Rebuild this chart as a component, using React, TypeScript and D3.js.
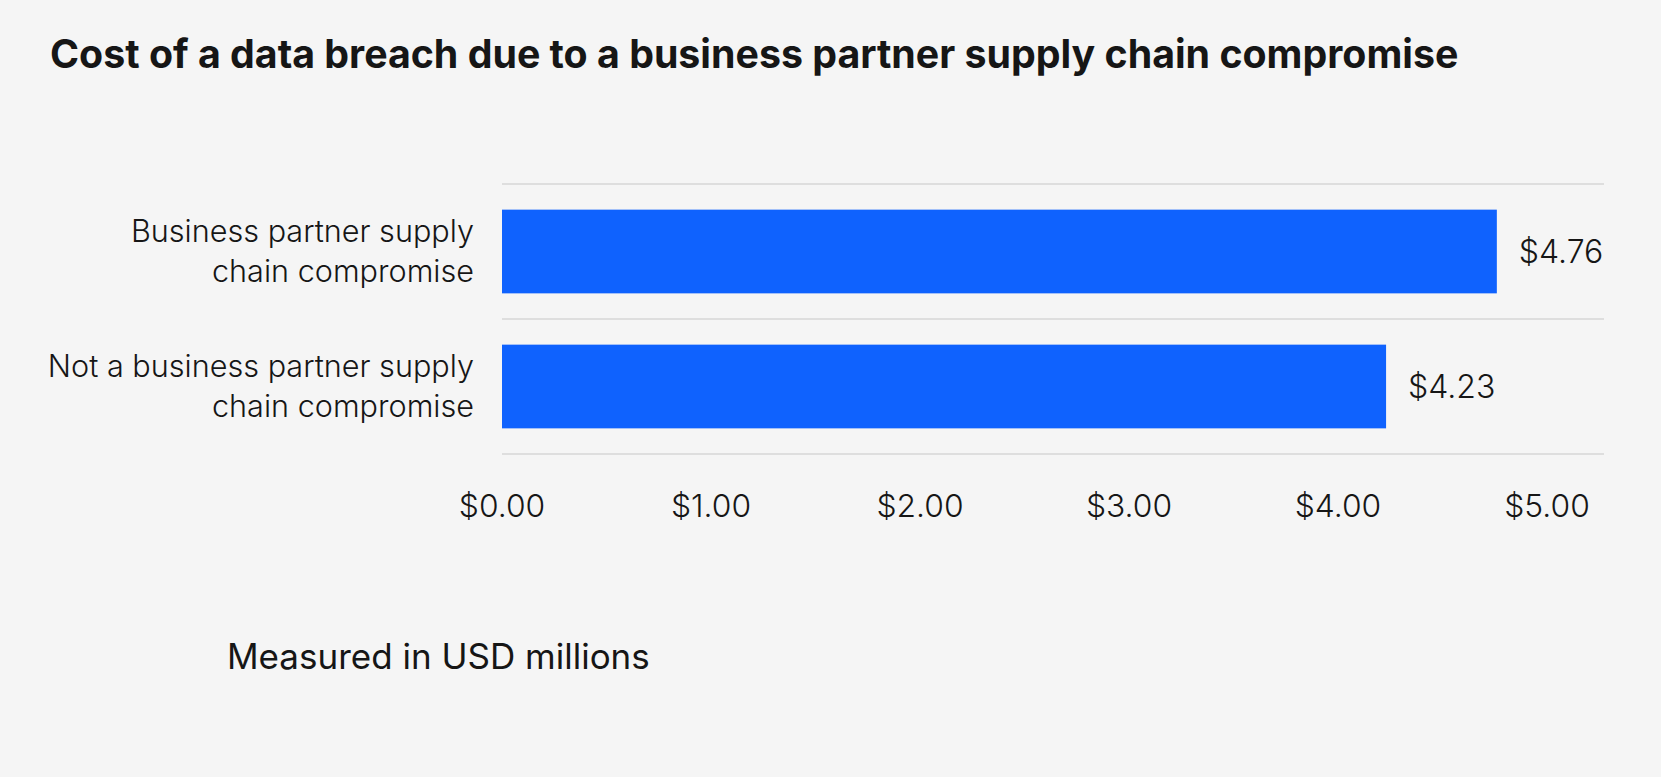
import React, { useEffect } from "react";
import * as d3 from "d3";

const categories = [
  "Business partner supply chain compromise",
  "Not a business partner supply chain compromise",
];
const labelLines = [
  ["Business partner supply", "chain compromise"],
  ["Not a business partner supply", "chain compromise"],
];
const values = [4.76, 4.23];
const tickValues = [0, 1, 2, 3, 4, 5];

const W = 1661;
const H = 777;
const font = "Inter, Roboto, sans-serif";
const ink = "#161616";

const App = () => {
  useEffect(() => {
    document.body.style.margin = "0";
  }, []);

  const x = d3.scaleLinear().domain([0, 5]).range([502, 1547]);
  const y = d3
    .scaleBand<string>()
    .domain(categories)
    .range([184, 454])
    .paddingInner(0.38)
    .paddingOuter(0.19);
  const step = y.step();
  const gridRight = 1604;
  const gridYs = categories
    .map((c) => (y(c) as number) - (step * y.paddingInner()) / 2)
    .concat([454]);
  const fmt = d3.format("$.2f");

  return (
    <svg width={W} height={H} style={{ display: "block" }}>
      <rect width={W} height={H} fill="#f5f5f5" />

      <text x={50} y={68} fontFamily={font} fontWeight={700} fontSize={39.3} fill={ink}>
        Cost of a data breach due to a business partner supply chain compromise
      </text>

      {/* gridlines */}
      {gridYs.map((gy, i) => (
        <line key={i} x1={x(0)} x2={gridRight} y1={gy} y2={gy} stroke="#d6d6d6" strokeWidth={1.5} />
      ))}

      {/* bars */}
      {categories.map((c, i) => {
        const top = y(c) as number;
        const cy = top + y.bandwidth() / 2;
        return (
          <g key={c}>
            <rect x={x(0)} y={top} width={x(values[i]) - x(0)} height={y.bandwidth()} fill="#0f62fe" />
            <text
              x={x(values[i]) + 22}
              y={cy}
              dy="0.35em"
              fontFamily={font}
              fontWeight={300}
              fontSize={32}
              fill={ink}
            >
              {fmt(values[i])}
            </text>
            <text textAnchor="end" fontFamily={font} fontWeight={300} fontSize={30.6} fill={ink}>
              {labelLines[i].map((ln, j) => (
                <tspan key={j} x={474} y={cy - 10 + j * 40}>
                  {ln}
                </tspan>
              ))}
            </text>
          </g>
        );
      })}

      {/* x axis labels */}
      {tickValues.map((t) => (
        <text
          key={t}
          x={x(t)}
          y={517}
          textAnchor="middle"
          fontFamily={font}
          fontWeight={300}
          fontSize={31.8}
          fill={ink}
        >
          {fmt(t)}
        </text>
      ))}

      <text x={227} y={669} fontFamily={font} fontWeight={400} fontSize={35} fill={ink}>
        Measured in USD millions
      </text>
    </svg>
  );
};

export default App;
